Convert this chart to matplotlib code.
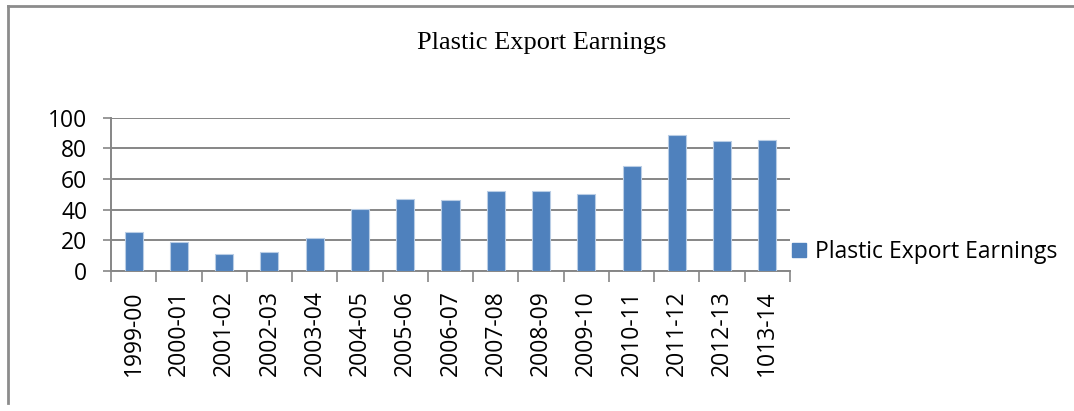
import matplotlib
matplotlib.use('Agg')
import matplotlib.pyplot as plt
from matplotlib.lines import Line2D
from matplotlib.patches import Patch
import numpy as np

# datos
years = ['1999-00', '2000-01', '2001-02', '2002-03', '2003-04', '2004-05',
         '2005-06', '2006-07', '2007-08', '2008-09', '2009-10', '2010-11',
         '2011-12', '2012-13', '1013-14']
earnings = [25.2, 18.7, 11.3, 12.2, 21.3, 40.4, 46.7, 46.3, 52.3, 52.3,
            50.4, 68.6, 88.8, 84.5, 85.5]
y_ticks = [0, 20, 40, 60, 80, 100]

bar_color = '#4F81BD'
grid_color = '#868686'
font = 'Open Sans'
fsize = 16.5

fig = plt.figure(figsize=(10.74, 4.11), dpi=100)
ax = fig.add_axes([111 / 1074, 1 - 271 / 411, 679 / 1074, 153.5 / 411])

x = np.arange(len(years))
ax.bar(x, earnings, width=0.4, color=bar_color, edgecolor='#B9CDE5',
       linewidth=0.8, zorder=3)

ax.set_xlim(-0.5, len(years) - 0.5)
ax.set_ylim(0, 100)
ax.set_yticks(y_ticks)
ax.set_yticklabels([str(v) for v in y_ticks], fontsize=fsize, family=font)
ax.yaxis.grid(True, color=grid_color, linewidth=1.4, zorder=0)

# marcas del eje x en los limites de categoria
ax.set_xticks(np.arange(len(years) + 1) - 0.5)
ax.set_xticklabels([])
ax.set_xticks(x, minor=True)
ax.set_xticklabels(years, minor=True, rotation=90, fontsize=fsize, family=font)
ax.tick_params(axis='x', which='major', length=8, width=1.2, color=grid_color)
ax.tick_params(axis='x', which='minor', length=0, pad=14)
ax.tick_params(axis='y', length=6, width=1.2, color=grid_color, pad=11)

for side in ['top', 'right']:
    ax.spines[side].set_visible(False)
for side in ['left', 'bottom']:
    ax.spines[side].set_color(grid_color)
    ax.spines[side].set_linewidth(1.4)

fig.text(542 / 1074, 1 - 43 / 411, 'Plastic Export Earnings', ha='center',
         va='center', fontsize=19, family='Liberation Serif')

handle = Patch(color=bar_color, label='Plastic Export Earnings')
fig.legend(handles=[handle], loc='center left',
           bbox_to_anchor=(783 / 1074, 1 - 252 / 411), frameon=False,
           prop={'family': font, 'size': fsize}, handlelength=0.6,
           handleheight=0.6, handletextpad=0.4, borderaxespad=0)

# borde del grafico (solo arriba e izquierda)
fig.add_artist(Line2D([8 / 1074, 8 / 1074], [1 - 403 / 411, 1 - 6 / 411],
                      transform=fig.transFigure, color='#8C8C8C', linewidth=2))
fig.add_artist(Line2D([8 / 1074, 1], [1 - 6 / 411, 1 - 6 / 411],
                      transform=fig.transFigure, color='#8C8C8C', linewidth=2))

fig.savefig('out.png', dpi=100)
